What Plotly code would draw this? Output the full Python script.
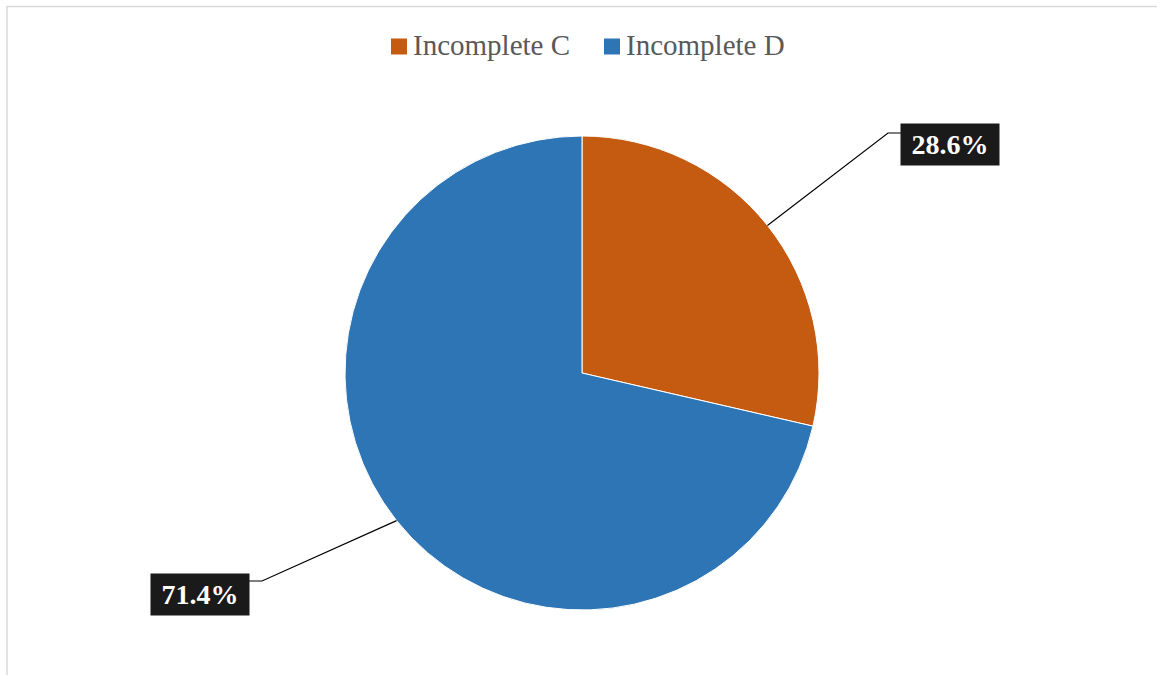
import math
import plotly.graph_objects as go

# Share of incomplete records by category
categories = ["Incomplete C", "Incomplete D"]
shares = [28.6, 71.4]
colors = ["#C55A11", "#2E75B6"]

W, H = 1157, 675
cx, cy, r = 582, 373, 237  # pie centre and radius in pixels
SERIF = "Liberation Serif, Times New Roman, serif"


def px(x):
    return x / W


def py(y):
    return 1 - y / H


fig = go.Figure(
    go.Pie(
        labels=categories,
        values=shares,
        sort=False,
        direction="clockwise",
        rotation=0,
        textinfo="none",
        hoverinfo="label+percent",
        showlegend=False,
        marker=dict(colors=colors, line=dict(color="white", width=1)),
        domain=dict(x=[px(cx - r), px(cx + r)], y=[py(cy + r), py(cy - r)]),
    )
)

shapes = []
annotations = []

# Data labels with leader lines, one per slice
label_boxes = [(950, 144, 888, 133, 901), (200, 594, 262, 581, 249)]
total = sum(shares)
start = 0.0
for val, (bx, by, ex, ey, hx) in zip(shares, label_boxes):
    mid = (start + val / 2) / total * 2 * math.pi
    start += val
    sx = cx + r * math.sin(mid)
    sy = cy - r * math.cos(mid)
    shapes.append(
        dict(
            type="path",
            xref="paper",
            yref="paper",
            path=f"M{px(sx)},{py(sy)} L{px(ex)},{py(ey)} L{px(hx)},{py(ey)}",
            line=dict(color="black", width=1.2),
        )
    )
    annotations.append(
        dict(
            x=px(bx),
            y=py(by),
            xref="paper",
            yref="paper",
            xanchor="center",
            yanchor="middle",
            text=f"<b>{val:.1f}%</b>",
            showarrow=False,
            bgcolor="#1a1a1a",
            borderpad=3,
            width=92,
            height=35,
            font=dict(family=SERIF, size=28, color="white"),
        )
    )

# Legend across the top: colour swatch followed by category name
legend_x = [391, 604]
for name, col, lx in zip(categories, colors, legend_x):
    shapes.append(
        dict(
            type="rect",
            xref="paper",
            yref="paper",
            x0=px(lx),
            x1=px(lx + 16),
            y0=py(54.5),
            y1=py(38.5),
            line=dict(width=0),
            fillcolor=col,
        )
    )
    annotations.append(
        dict(
            x=px(lx + 20),
            y=py(45),
            xref="paper",
            yref="paper",
            xanchor="left",
            yanchor="middle",
            text=name,
            showarrow=False,
            font=dict(family=SERIF, size=29, color="#595959"),
        )
    )

# Chart area outline
shapes.append(
    dict(
        type="rect",
        xref="paper",
        yref="paper",
        x0=px(7),
        x1=1.02,
        y0=-0.02,
        y1=py(6.5),
        line=dict(color="#D9D9D9", width=1.5),
        fillcolor="rgba(0,0,0,0)",
        layer="below",
    )
)

fig.update_layout(
    width=W,
    height=H,
    margin=dict(l=0, r=0, t=0, b=0),
    paper_bgcolor="white",
    plot_bgcolor="white",
    shapes=shapes,
    annotations=annotations,
)

fig.write_html("out.html")
